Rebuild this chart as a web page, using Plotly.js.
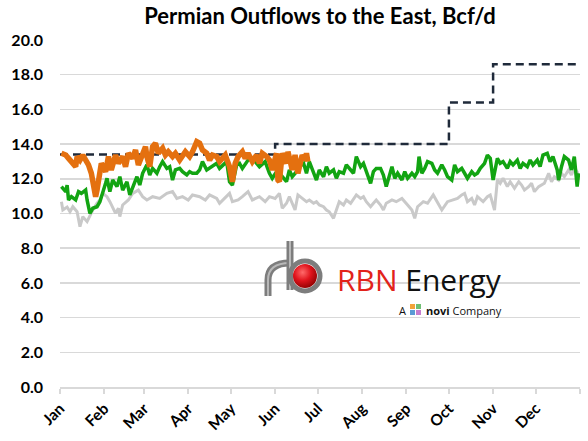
<!DOCTYPE html>
<html>
<head>
<meta charset="utf-8">
<script src="https://cdn.plot.ly/plotly-3.0.1.min.js"></script>
<style>html,body{margin:0;padding:0;background:#fff;}#chart{width:588px;height:441px;}</style>
</head>
<body>
<div id="chart"></div>
<script>
// Day of year (0 = Jan 1) and Bcf/d values
const monthNames = ['Jan','Feb','Mar','Apr','May','Jun','Jul','Aug','Sep','Oct','Nov','Dec'];
const monthStartDays = [0,31,59,90,120,151,181,212,243,273,304,334,365];

const grayDays = [1,2,5,7,9,12,14,16,19,21,23,26,28,30,33,35,39,41,42,44,48,51,55,58,61,65,70,75,79,82,86,90,93,98,102,105,110,112,117,119,121,125,128,132,135,140,144,147,151,154,156,159,161,165,167,170,173,175,178,180,182,185,187,189,192,194,196,199,201,204,206,208,211,213,215,218,220,222,225,227,229,233,236,240,244,247,249,251,255,258,262,265,268,272,275,279,282,284,286,289,291,293,297,300,302,305,307,309,311,314,316,319,322,324,326,329,331,333,336,338,340,343,345,347,350,352,354,357,359,361,363,364];
const grayValues = [10.68,10.20,10.37,10.10,10.39,10.10,9.24,9.82,9.53,9.91,10.20,10.59,10.78,11.16,10.97,10.68,10.01,10.30,9.82,10.49,10.78,11.16,11.35,10.97,10.78,10.97,10.87,11.16,11.26,10.87,10.97,10.78,11.07,10.97,10.78,11.07,10.87,10.59,10.97,11.16,10.68,10.78,10.97,11.26,10.78,10.97,10.68,10.97,10.87,11.16,10.30,10.59,10.97,10.20,11.07,10.87,10.68,10.78,10.59,10.68,10.49,10.39,10.20,10.10,9.72,10.20,10.68,10.49,10.78,10.59,10.87,11.07,10.87,10.97,10.68,10.39,10.59,10.78,10.49,10.20,10.59,10.78,10.68,10.87,10.49,10.20,9.72,10.39,10.68,10.59,11.07,10.59,10.20,10.68,10.78,10.87,11.07,11.16,10.68,10.87,10.49,10.97,10.68,10.97,11.07,10.20,11.93,11.74,12.03,11.55,11.83,11.45,11.83,11.64,11.35,11.55,11.74,11.26,11.55,11.64,11.74,12.32,11.83,12.12,11.93,12.32,12.12,12.51,12.22,12.60,12.41,12.12];

const greenDays = [1,4,5,6,8,11,13,15,18,19,21,23,26,28,32,33,35,37,40,42,44,47,49,51,54,56,58,61,63,65,68,70,72,75,77,79,81,84,86,89,91,93,96,98,100,103,107,110,112,117,119,121,124,126,128,132,135,140,144,147,149,152,154,156,159,161,163,166,168,171,173,175,178,180,182,185,187,189,192,194,196,199,201,204,206,208,211,213,215,218,220,222,225,227,229,231,233,235,237,240,242,244,247,249,251,252,254,256,258,261,263,265,268,270,272,275,277,279,282,284,286,289,291,293,295,298,300,302,304,307,309,311,314,316,318,321,323,325,328,330,332,335,337,339,342,344,346,349,350,352,354,357,359,361,362,363,364];
const greenValues = [11.55,11.26,11.64,10.78,10.97,10.78,11.26,11.16,11.35,10.78,10.01,10.30,10.39,10.68,11.74,12.03,11.26,11.93,11.55,12.12,11.35,11.83,11.07,11.45,12.12,11.64,12.32,12.80,12.22,12.60,12.32,12.70,12.99,12.60,12.70,11.93,12.51,12.60,12.41,12.22,12.41,12.32,12.32,12.51,12.99,12.51,12.70,12.89,12.60,12.99,11.83,11.64,12.80,12.89,12.60,13.08,13.18,12.70,12.99,12.32,12.03,12.41,12.32,12.12,11.84,12.51,12.12,12.41,12.70,12.89,12.32,12.99,12.32,11.93,12.51,12.12,12.70,12.32,12.51,12.03,12.41,12.32,12.80,12.51,12.32,13.28,12.70,12.89,12.41,11.74,12.41,12.60,12.60,12.22,11.55,12.12,12.70,12.03,12.32,11.93,12.41,12.03,12.32,12.12,12.41,13.28,12.32,12.60,12.99,12.89,12.51,12.32,12.80,12.51,12.12,11.93,12.80,12.41,12.60,12.32,12.03,12.41,12.22,12.32,12.60,12.89,13.37,13.18,11.93,13.18,12.89,12.99,12.60,12.99,12.80,13.08,12.60,12.89,12.70,13.08,12.80,13.08,12.70,13.37,13.47,12.99,13.28,12.51,11.93,12.70,13.28,13.08,12.51,13.28,12.50,11.55,12.32];

const orangeDays = [1,4,6,8,11,12,14,16,18,20,22,25,26,27,28,29,32,34,36,39,41,44,46,48,51,53,55,58,60,61,63,65,67,69,72,74,76,79,81,84,88,91,93,96,98,100,103,105,107,110,112,116,119,121,123,125,128,130,132,135,138,140,142,145,147,149,152,153,154,156,159,160,163,165,167,170,172,173,174];
const orangeValues = [13.47,13.37,13.18,12.99,12.70,13.28,13.08,13.37,13.08,12.80,12.32,10.97,11.35,11.93,12.60,12.89,12.41,13.28,12.51,13.37,12.89,13.28,12.70,13.47,13.18,13.66,12.80,13.37,13.85,13.28,12.70,13.85,14.05,13.47,13.76,13.37,13.56,13.28,13.47,13.08,13.56,13.28,13.56,14.14,14.05,13.66,13.47,13.08,13.37,13.28,12.99,13.37,12.70,11.83,12.89,13.28,13.56,13.18,13.47,12.99,13.37,12.89,13.47,13.28,13.08,12.51,13.47,11.93,11.84,13.47,12.89,13.56,12.51,13.37,12.32,13.37,13.08,13.47,12.99];

const capacityDays = [0,151,273,304,364];
const capacityValues = [13.4,14.0,16.4,18.6,18.6];

const titleText = 'Permian Outflows to the East, Bcf/d';

const base = Date.UTC(2023,0,1);
const toDate = d => new Date(base + d*86400000).toISOString().slice(0,10);

const traces = [
  {x: grayDays.map(toDate), y: grayValues, mode:'lines', line:{color:'#c9c9c9', width:3}, hoverinfo:'skip'},
  {x: greenDays.map(toDate), y: greenValues, mode:'lines', line:{color:'#12a412', width:3.5}, hoverinfo:'skip'},
  {x: capacityDays.map(toDate), y: capacityValues, mode:'lines', line:{color:'#1f2a3a', width:2.5, dash:'8px,5px', shape:'hv'}, hoverinfo:'skip'},
  {x: orangeDays.map(toDate), y: orangeValues, mode:'lines', line:{color:'#e4700f', width:5.5}, hoverinfo:'skip'}
];

const iconSvg = '<svg xmlns="http://www.w3.org/2000/svg" viewBox="0 0 60 56" width="60" height="56">' +
  '<defs><radialGradient id="g" cx="0.4" cy="0.35" r="0.7"><stop offset="0" stop-color="#ff6a6a"/><stop offset="0.5" stop-color="#e0141c"/><stop offset="1" stop-color="#8c0000"/></radialGradient></defs>' +
  '<path d="M5 56 L5 40 Q5 23 27 23" fill="none" stroke="#7d7d7d" stroke-width="7"/>' +
  '<path d="M5 56 L5 40 Q5 23 27 23" fill="none" stroke="#b8b8b8" stroke-width="2"/>' +
  '<line x1="27" y1="1" x2="27" y2="50" stroke="#7d7d7d" stroke-width="7"/>' +
  '<line x1="27" y1="1" x2="27" y2="50" stroke="#b8b8b8" stroke-width="2"/>' +
  '<circle cx="42" cy="36" r="15" fill="none" stroke="#7d7d7d" stroke-width="5"/>' +
  '<circle cx="42" cy="36" r="12" fill="url(#g)"/></svg>';
const noviSvg = '<svg xmlns="http://www.w3.org/2000/svg" viewBox="0 0 12 12" width="12" height="12">' +
  '<rect x="0" y="0" width="5" height="5" fill="#f2a33a"/><rect x="6" y="0" width="5" height="5" fill="#6fbf73"/>' +
  '<rect x="0" y="6" width="5" height="5" fill="#5b9bd5"/><rect x="6" y="6" width="5" height="5" fill="#c77dce"/></svg>';
const uri = s => 'data:image/svg+xml;base64,' + btoa(s);

const layout = {
  width:588, height:441,
  margin:{l:60, r:8, t:40, b:54},
  paper_bgcolor:'#ffffff', plot_bgcolor:'#ffffff',
  showlegend:false,
  font:{family:'Lato, "Liberation Sans", sans-serif', color:'#000'},
  title:{text:titleText, x:0.5, xanchor:'center', xref:'paper', y:0.962, yanchor:'middle',
         font:{family:'Lato, sans-serif', size:22, weight:'bold', color:'#000'}},
  xaxis:{type:'date', range:[toDate(0), toDate(365)],
         tickvals: monthStartDays.map(toDate),
         ticktext: monthNames.concat(['']),
         tickangle:-45, ticks:'outside', ticklen:5, tickcolor:'#d9d9d9', tickwidth:1.5,
         showline:true, linecolor:'#d9d9d9', linewidth:1.5, showgrid:false, zeroline:false,
         tickfont:{family:'Lato, sans-serif', size:15.5, weight:'bold', color:'#000'}},
  yaxis:{range:[0,20], dtick:2, tick0:0, tickformat:'.1f', showgrid:true, gridcolor:'#d9d9d9', gridwidth:1.5,
         zeroline:false, showline:false, ticks:'', ticklabelstandoff:16,
         tickfont:{family:'Lato, sans-serif', size:16, weight:'bold', color:'#000'}},
  images:[
    {source: uri(iconSvg), xref:'paper', yref:'paper', x:(263-60)/520, y:(387-240)/347,
     sizex:60/520, sizey:56/347, xanchor:'left', yanchor:'top', sizing:'stretch', layer:'above'},
    {source: uri(noviSvg), xref:'paper', yref:'paper', x:(410-60)/520, y:(387-304)/347,
     sizex:12/520, sizey:12/347, xanchor:'left', yanchor:'top', sizing:'stretch', layer:'above'}
  ],
  annotations:[
    {text:'<span style="color:#e2231a">RBN</span> Energy', xref:'paper', yref:'paper',
     x:(335-60)/520, y:(387-279)/347, xanchor:'left', yanchor:'middle', showarrow:false,
     font:{family:'"Open Sans", sans-serif', size:30, color:'#111'}},
    {text:'A', xref:'paper', yref:'paper', x:(397-60)/520, y:(387-310)/347, xanchor:'left', yanchor:'middle',
     showarrow:false, font:{family:'"Open Sans", sans-serif', size:11, color:'#111'}},
    {text:'<b>novi</b> Company', xref:'paper', yref:'paper', x:(424-60)/520, y:(387-310)/347, xanchor:'left', yanchor:'middle',
     showarrow:false, font:{family:'"Open Sans", sans-serif', size:11, color:'#111'}}
  ]
};

Plotly.newPlot('chart', traces, layout, {staticPlot:true, displayModeBar:false});
</script>
</body>
</html>
